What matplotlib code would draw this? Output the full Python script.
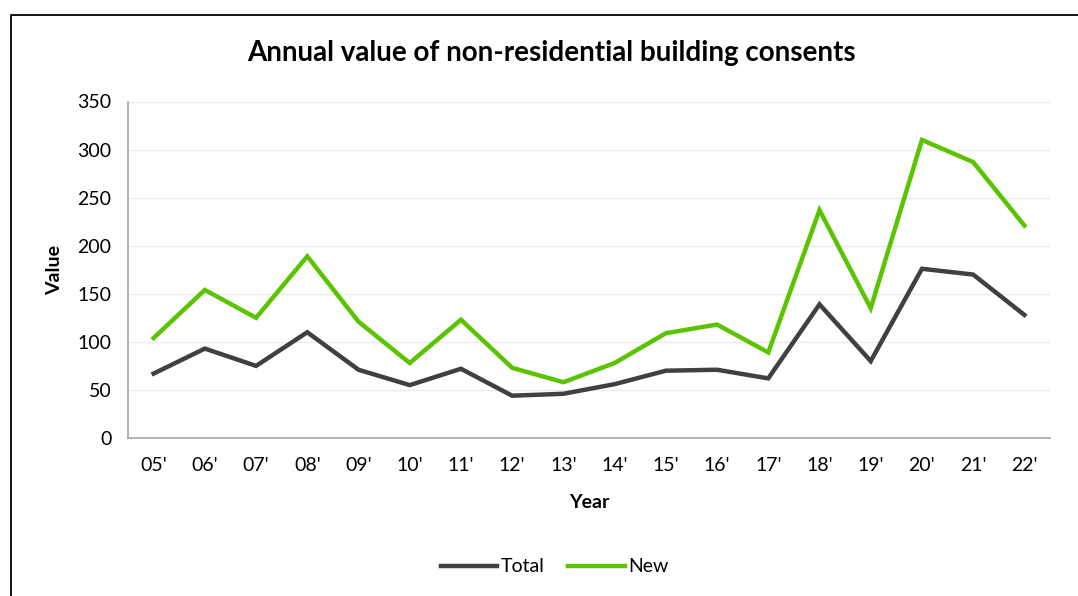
import matplotlib
matplotlib.use("Agg")
import matplotlib.pyplot as plt
from matplotlib.lines import Line2D

years = ["05'", "06'", "07'", "08'", "09'", "10'", "11'", "12'", "13'", "14'",
         "15'", "16'", "17'", "18'", "19'", "20'", "21'", "22'"]
total = [67, 93, 75, 110, 71, 55, 72, 44, 46, 56, 70, 71, 62, 139, 80, 176, 170, 128]
new = [104, 154, 125, 189, 121, 78, 123, 73, 58, 78, 109, 118, 89, 237, 135, 310, 287, 221]

plt.rcParams['font.family'] = ['Lato', 'DejaVu Sans']

W, H = 1078, 596
fig = plt.figure(figsize=(W / 100, H / 100), dpi=100)
ax = fig.add_axes([128 / W, 1 - 438 / H, (1050 - 128) / W, (438 - 101.5) / H])

x = list(range(len(years)))
ax.plot(x, total, color='#404040', lw=3.2, label='Total', solid_joinstyle='miter')
ax.plot(x, new, color='#5BC400', lw=3.2, label='New', solid_joinstyle='miter')

ax.set_xlim(-0.5, len(years) - 0.5)
ax.set_ylim(0, 350)
ax.set_yticks(range(0, 351, 50))
ax.set_xticks(x)
ax.set_xticklabels(years)
ax.tick_params(axis='both', length=0, labelsize=14, colors='black')
ax.tick_params(axis='x', pad=14)
ax.tick_params(axis='y', pad=12)
ax.yaxis.grid(True, color='#EBEBEB', lw=1)
ax.set_axisbelow(True)
for s in ['top', 'right']:
    ax.spines[s].set_visible(False)
ax.spines['left'].set_color('#A6A6A6')
ax.spines['bottom'].set_color('#A6A6A6')
ax.spines['left'].set_linewidth(1.2)
ax.spines['bottom'].set_linewidth(1.2)

ax.set_xlabel('Year', fontsize=14, fontweight='bold', labelpad=14)
ax.set_ylabel('Value', fontsize=14, fontweight='bold', labelpad=10)

fig.text(551 / W, 1 - 53 / H, 'Annual value of non-residential building consents',
         ha='center', va='center', fontsize=20, fontweight='bold')

leg = fig.legend(loc='center', bbox_to_anchor=(555 / W, 1 - 567 / H), ncol=2,
                 frameon=False, fontsize=14, handlelength=2.9, columnspacing=1.2,
                 handletextpad=0.2)

# chart frame
fl = 10.5 / W
ft = 1 - 15 / H
fig.add_artist(Line2D([fl, fl, 1], [0, ft, ft], transform=fig.transFigure,
                      color='black', lw=1.3))

fig.savefig('out.png', dpi=100)
